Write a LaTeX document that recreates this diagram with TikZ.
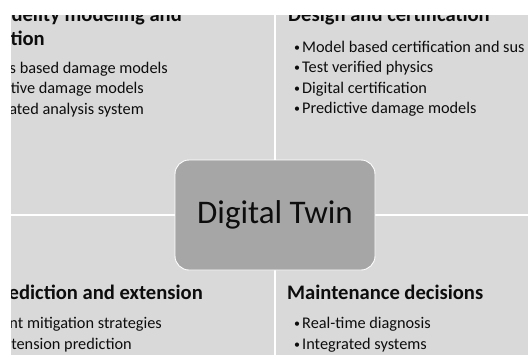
\documentclass[tikz,border=0pt]{standalone}
\usepackage{fontspec}
\setmainfont{Carlito}
\definecolor{quad}{HTML}{D9D9D9}
\definecolor{hub}{HTML}{A6A6A6}
\definecolor{ink}{HTML}{0D0D0D}
\newcommand\bulmark{\makebox[10pt][l]{\hspace{1.8pt}\raisebox{0.9pt}{\fontsize{12}{12}\selectfont •}}}
\begin{document}
\begin{tikzpicture}[x=1pt,y=-1pt,
  quadbox/.style={fill=quad,draw=white,line width=1.3pt},
  ttl/.style={inner sep=0pt,font=\fontsize{20.6}{22}\selectfont\bfseries,text=ink},
  itm/.style={inner sep=0pt,font=\fontsize{16.3}{18}\selectfont,text=ink},
  hubbox/.style={fill=hub,draw=white,line width=0.9pt,rounded corners=14pt,minimum width=200pt,minimum height=110pt,font=\fontsize{33}{36}\selectfont,text=ink}]
\useasboundingbox (0,0) rectangle (528,354);
\fill[white] (0,0) rectangle (528,354);
\begin{scope}
\clip (11,15) rectangle (528,354);
\draw[quadbox] (-100,-100) rectangle (275,215);
\draw[quadbox] (275,-100) rectangle (700,215);
\draw[quadbox] (-100,215) rectangle (275,500);
\draw[quadbox] (275,215) rectangle (700,500);
% top-left
\node[ttl,anchor=base east] (tl1) at (182,21.5) {delity modeling and};
\node[ttl,anchor=base east] (tl2) at (45,45) {tion};
\node[itm,anchor=base east] (tla) at (168,73) {s based damage models};
\node[itm,anchor=base east] (tlb) at (144,93.5) {tive damage models};
\node[itm,anchor=base east] (tlc) at (144,114) {ated analysis system};
% top-right
\node[ttl,anchor=base west] (tr1) at (288,21.5) {Design and certification};
\node[itm,anchor=base west] (tra) at (292,52) {\bulmark Model based certification and sus};
\node[itm,anchor=base west] (trb) at (292,72.5) {\bulmark Test verified physics};
\node[itm,anchor=base west] (trc) at (292,93) {\bulmark Digital certification};
\node[itm,anchor=base west] (trd) at (292,113.5) {\bulmark Predictive damage models};
% bottom-left
\node[ttl,anchor=base east] (bl1) at (203,299) {ediction and extension};
\node[itm,anchor=base east] (bla) at (162,328) {nt mitigation strategies};
\node[itm,anchor=base east] (blb) at (132,349) {tension prediction};
% bottom-right
\node[ttl,anchor=base west] (br1) at (287,299) {Maintenance decisions};
\node[itm,anchor=base west] (bra) at (292,328) {\bulmark Real-time diagnosis};
\node[itm,anchor=base west] (brb) at (292,349) {\bulmark Integrated systems};
% hub
\node[hubbox] (hub) at (275,215) {Digital Twin};
\end{scope}
\end{tikzpicture}
\end{document}
